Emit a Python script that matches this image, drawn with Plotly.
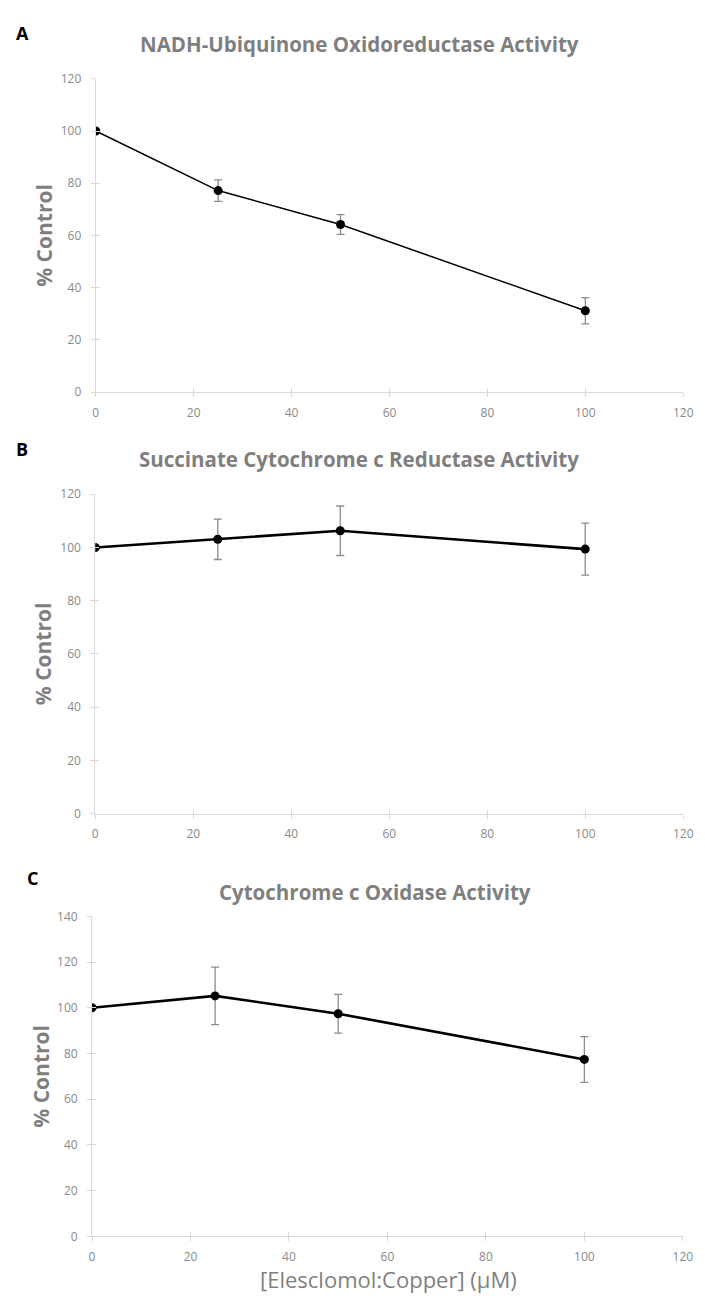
import plotly.graph_objects as go

W, H = 705, 1304

conc = [0, 25, 50, 100]

nadh_vals = [100, 77.2, 64.2, 31.2]
nadh_err = [0, 4.1, 3.8, 5.0]

sccr_vals = [100, 103.1, 106.3, 99.4]
sccr_err = [0, 7.6, 9.3, 9.8]

cox_vals = [100, 105.2, 97.4, 77.4]
cox_err = [0, 12.6, 8.5, 10.0]

titles = ["NADH-Ubiquinone Oxidoreductase Activity",
          "Succinate Cytochrome c Reductase Activity",
          "Cytochrome c Oxidase Activity"]
panel_letters = ["A", "B", "C"]
y_title = "% Control"
x_title = "[Elesclomol:Copper] (\u03bcM)"
x_ticks = [0, 20, 40, 60, 80, 100, 120]
y_ticks_ab = [0, 20, 40, 60, 80, 100, 120]
y_ticks_c = [0, 20, 40, 60, 80, 100, 120, 140]

# pixel layout (left, right, top, bottom) of each plot area
boxes = [(94.5, 693.0, 70.7, 388.3),
         (94.0, 693.0, 491.7, 815.3),
         (90.7, 692.6, 919.3, 1243.6)]
y_ranges = [[0, 120], [0, 120], [0, 140]]
y_tick_sets = [y_ticks_ab, y_ticks_ab, y_ticks_c]
line_widths = [1.5, 2.6, 2.6]

series = [(nadh_vals, nadh_err), (sccr_vals, sccr_err), (cox_vals, cox_err)]

AXIS_COLOR = "#d9d9d9"
TICK_FONT = dict(family="Open Sans", size=12, color="#8a8a8a")
TITLE_COLOR = "#7f7f7f"

fig = go.Figure()
layout = {}

for i in range(3):
    l, r, t, b = boxes[i]
    xd = [l / W, r / W]
    yd = [(H - b) / H, (H - t) / H]
    n = i + 1
    xa = "x" if n == 1 else f"x{n}"
    ya = "y" if n == 1 else f"y{n}"
    xk = "xaxis" if n == 1 else f"xaxis{n}"
    yk = "yaxis" if n == 1 else f"yaxis{n}"
    vals, err = series[i]
    fig.add_trace(go.Scatter(
        x=conc, y=vals, mode="lines+markers",
        line=dict(color="black", width=line_widths[i]),
        marker=dict(color="black", size=9),
        error_y=dict(type="data", array=err, visible=True,
                     color="#8c8c8c", thickness=1.3, width=4),
        xaxis=xa, yaxis=ya, showlegend=False, hoverinfo="skip"))
    layout[xk] = dict(domain=xd, anchor=ya, range=[0, 120],
                      tickvals=x_ticks, ticktext=[str(v) for v in x_ticks],
                      showgrid=False, zeroline=False, showline=True,
                      linecolor=AXIS_COLOR, linewidth=1,
                      ticks="outside", ticklen=4, tickcolor=AXIS_COLOR,
                      tickfont=TICK_FONT, ticklabelstandoff=5, fixedrange=True)
    layout[yk] = dict(domain=yd, anchor=xa, range=y_ranges[i],
                      tickvals=y_tick_sets[i], ticktext=[str(v) for v in y_tick_sets[i]],
                      showgrid=False, zeroline=False, showline=True,
                      linecolor=AXIS_COLOR, linewidth=1,
                      ticks="outside", ticklen=4, tickcolor=AXIS_COLOR,
                      tickfont=TICK_FONT, ticklabelstandoff=7, fixedrange=True)
    # overlay axes to draw the inner half of the crossing tick marks
    m = n + 3
    oxk, oyk = f"xaxis{m}", f"yaxis{m}"
    layout[oxk] = dict(domain=xd, anchor=f"y{m}", range=[0, 120], overlaying=xa,
                       tickvals=x_ticks, showticklabels=False, showgrid=False,
                       zeroline=False, showline=False, ticks="inside", ticklen=4,
                       tickcolor=AXIS_COLOR, fixedrange=True)
    layout[oyk] = dict(domain=yd, anchor=f"x{m}", range=y_ranges[i], overlaying=ya,
                       tickvals=y_tick_sets[i], showticklabels=False, showgrid=False,
                       zeroline=False, showline=False, ticks="inside", ticklen=4,
                       tickcolor=AXIS_COLOR, fixedrange=True)
    fig.add_trace(go.Scatter(x=[None], y=[None], xaxis=f"x{m}", yaxis=f"y{m}",
                             showlegend=False, hoverinfo="skip"))

annotations = []
title_pos = [(363, 35), (363, 456), (379, 895)]
letter_pos = [(20, 24), (19, 446), (30, 880)]
ytitle_x = [41, 41, 39]
for i in range(3):
    tx, ty = title_pos[i]
    annotations.append(dict(x=tx / W, y=(H - ty) / H, xref="paper", yref="paper",
                            text=f"<b>{titles[i]}</b>", showarrow=False,
                            xanchor="center", yanchor="middle",
                            font=dict(family="Open Sans", size=20.5, color=TITLE_COLOR)))
    lx, ly = letter_pos[i]
    annotations.append(dict(x=lx / W, y=(H - ly) / H, xref="paper", yref="paper",
                            text=f"<b>{panel_letters[i]}</b>", showarrow=False,
                            xanchor="center", yanchor="middle",
                            font=dict(family="Open Sans", size=18, color="black")))
    l, r, t, b = boxes[i]
    annotations.append(dict(x=ytitle_x[i] / W, y=(H - (t + b) / 2) / H,
                            xref="paper", yref="paper",
                            text=f"<b>{y_title}</b>", showarrow=False, textangle=-90,
                            xanchor="center", yanchor="middle",
                            font=dict(family="Open Sans", size=21, color=TITLE_COLOR)))
annotations.append(dict(x=393 / W, y=(H - 1287) / H, xref="paper", yref="paper",
                        text=x_title, showarrow=False, xanchor="center", yanchor="middle",
                        font=dict(family="Open Sans", size=22, color=TITLE_COLOR)))

fig.update_layout(width=W, height=H, margin=dict(l=0, r=0, t=0, b=0),
                  paper_bgcolor="white", plot_bgcolor="white",
                  annotations=annotations, **layout)

fig.write_html("out.html",
               config={"displayModeBar": False, "staticPlot": True},
               post_script="document.body.style.margin='0';"
                           "document.body.style.overflow='hidden';")
